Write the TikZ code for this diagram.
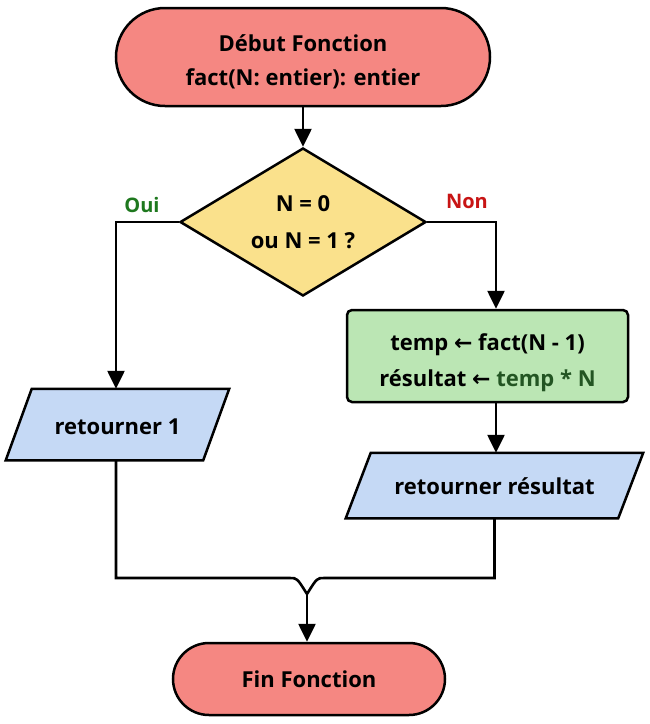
\documentclass[tikz,border=0pt]{standalone}
\usepackage{fontspec}
\setmainfont{Open Sans}
\newfontfamily\arrowfont{DejaVu Sans}
\usetikzlibrary{shapes.geometric,shapes.misc,arrows.meta,backgrounds}
\definecolor{termfill}{RGB}{245,135,130}
\definecolor{decfill}{RGB}{250,225,140}
\definecolor{procfill}{RGB}{187,230,180}
\definecolor{iofill}{RGB}{197,217,245}
\definecolor{ouigreen}{RGB}{30,120,30}
\definecolor{nonred}{RGB}{200,20,20}
\definecolor{vardark}{RGB}{35,85,35}
\newcommand{\larr}{{\arrowfont\char"2190}}
\newcommand{\paraShape}[2]{%
  \draw[iobox] ([xshift=#2]#1.north west) -- ([xshift=#2]#1.north east)
    -- ([xshift=-#2]#1.south east) -- ([xshift=-#2]#1.south west) -- cycle;}
\begin{document}
\begin{tikzpicture}[x=1pt,y=-1pt,
  base/.style={draw=black, line width=2.5pt, align=center, inner sep=0pt,
    font=\bfseries\fontsize{22}{34}\selectfont},
  term/.style={base, rounded rectangle, fill=termfill},
  decision/.style={base, diamond, fill=decfill, aspect=1.66,
    font=\bfseries\fontsize{22}{37}\selectfont},
  proc/.style={base, rectangle, rounded corners=5pt, fill=procfill,
    font=\bfseries\fontsize{22}{36}\selectfont},
  io/.style={base, rectangle, draw=none},
  iobox/.style={draw=black, line width=2.5pt, fill=iofill, line join=miter},
  lab/.style={font=\bfseries\fontsize{20}{24}\selectfont, inner sep=0pt},
  line/.style={draw=black, line width=2.6pt},
  arr/.style={line, -{Triangle[length=18pt,width=17pt]}}
]
\begin{scope}[on background layer]
\path[use as bounding box, fill=white] (0,0) rectangle (650,724);
\end{scope}

\node[term, minimum width=374pt, minimum height=98pt] (start) at (303,57)
  {\rule{0pt}{26pt}Début Fonction\\fact(N: entier): entier};
\node[decision, minimum width=246pt, minimum height=148pt] (dec) at (303,222)
  {N = 0\\ou N = 1 ?};
\node[proc, minimum width=281pt, minimum height=92pt] (calc) at (487.5,356)
  {\rule{0pt}{31pt}temp \larr{} fact(N - 1)\\résultat \larr{} \textcolor{vardark}{temp * N}};
\node[io, minimum width=195pt, minimum height=69pt] (ret1) at (117.5,424.5) {\rule{0pt}{21pt}retourner 1};
\node[io, minimum width=270pt, minimum height=63pt] (retr) at (494.5,485.5) {\rule{0pt}{19pt}retourner résultat};
\node[term, minimum width=272pt, minimum height=72pt] (fin) at (309,679) {Fin Fonction};

\begin{scope}[on background layer]
\paraShape{ret1}{13pt}
\paraShape{retr}{12.5pt}
\end{scope}

\node[lab, text=ouigreen] (oui) at (142,205) {Oui};
\node[lab, text=nonred] (non) at (467,201) {Non};

\coordinate (j) at (307,594);
\coordinate (gtop) at ([xshift=8.5pt]calc.north);
\coordinate (gbot) at ([xshift=8.5pt]calc.south);

\draw[arr] (start.south) -- (dec.north);
\draw[arr] (dec.west) -| ([xshift=-1.5pt]ret1.north);
\draw[arr] (dec.east) -| (gtop);
\draw[arr] (gbot) -- (gbot |- retr.north);
\draw[line] ([xshift=-1.5pt]ret1.south) |- (290,578) .. controls (297,578) .. (j);
\draw[line] (retr.south) |- (324,578) .. controls (317,578) .. (j);
\draw[arr] (j) -- (j |- fin.north);
\end{tikzpicture}
\end{document}
